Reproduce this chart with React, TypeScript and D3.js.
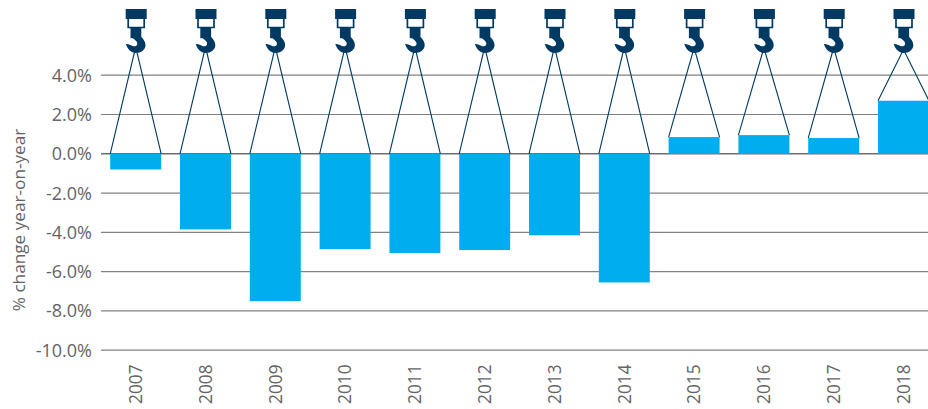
import React from "react";
import * as d3 from "d3";

const years = ["2007","2008","2009","2010","2011","2012","2013","2014","2015","2016","2017","2018"];
const values = [-0.8,-3.85,-7.5,-4.85,-5.05,-4.9,-4.15,-6.55,0.85,0.95,0.8,2.7];
const ticks = [4,2,0,-2,-4,-6,-8,-10];
const tickLabels = ["4.0%","2.0%","0.0%","-2.0%","-4.0%","-6.0%","-8.0%","-10.0%"];
const yAxisTitle = "% change year-on-year";

const W = 928, H = 409;
const y = d3.scaleLinear().domain([-10,4]).range([350.2,75.2]);
const x = d3.scaleBand().domain(years).range([100.8,938.4]).paddingInner(0.27).paddingOuter(0.135);
const NAVY = "#003a63";
const BLUE = "#00aeef";
const TXT = "#636466";
const FONT = "'Open Sans', sans-serif";

function Hook({ cx }: { cx: number }) {
  return (
    <g transform={`translate(${cx},0)`} fill={NAVY}>
      <rect x={-10} y={9} width={21} height={10} />
      <path d="M-7.5,19 V27.5 H8.5 V19" fill="none" stroke={NAVY} strokeWidth={1.7} />
      <path d="M-5.2,27 H5.6 V37 C8,39 9.8,42 9.8,45 C9.8,49.5 5.5,53 0,53 C-4.5,53 -8,49.5 -9.8,44 C-7,43.8 -5,45 -3.2,46 C-1.2,46.8 1.2,46 1.6,44.2 C2,42 0,40.5 -2.8,38.3 H-5.2 Z" />
    </g>
  );
}

export default function App() {
  return (
    <svg width={W} height={H} style={{ position: "absolute", left: 0, top: 0, background: "#fff" }} fontFamily={FONT}>
      {ticks.map((t, i) => (
        <g key={t}>
          <line x1={101} x2={W} y1={y(t)} y2={y(t)} stroke={t === 0 ? "#6e6e70" : "#808285"} strokeWidth={t === 0 ? 1.6 : 1.2} />
          <text x={92} y={y(t) + 6.5} textAnchor="end" fontSize={18} fill={TXT}>{tickLabels[i]}</text>
        </g>
      ))}
      {years.map((yr, i) => {
        const v = values[i];
        const bx = x(yr)!;
        const bw = x.bandwidth();
        const top = y(Math.max(v, 0));
        const bottom = y(Math.min(v, 0));
        const cx = bx + bw / 2;
        return (
          <g key={yr}>
            <rect x={bx} y={top} width={bw} height={bottom - top} fill={BLUE} />
            <path d={`M${bx},${top} L${cx - 1.2},52 M${cx + 1.2},52 L${bx + bw},${top}`} fill="none" stroke={NAVY} strokeWidth={1.1} />
            <Hook cx={cx} />
            <text transform={`translate(${cx + 6.3},404) rotate(-90)`} fontSize={17.3} fill={TXT}>{yr}</text>
          </g>
        );
      })}
      <text transform="translate(25,220) rotate(-90)" textAnchor="middle" fontSize={17.2} fill={TXT}>{yAxisTitle}</text>
    </svg>
  );
}
